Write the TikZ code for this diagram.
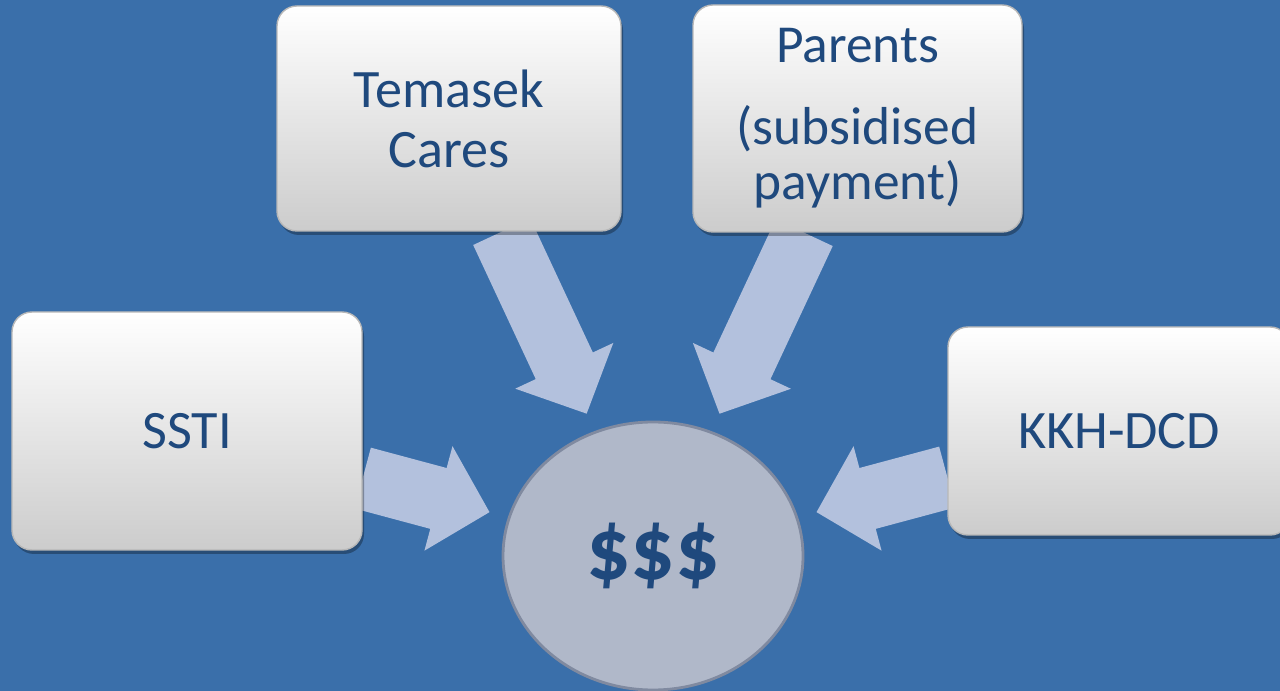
\documentclass[tikz,border=0pt]{standalone}
\usepackage{fontspec}
\setmainfont{Carlito}
\usetikzlibrary{positioning,shapes,arrows.meta,shadows}

\definecolor{slideblue}{RGB}{58,111,170}
\definecolor{flowblue}{RGB}{179,193,221}
\definecolor{coinfill}{RGB}{176,184,201}
\definecolor{coinedge}{RGB}{128,138,160}
\definecolor{labelblue}{RGB}{31,73,125}

\pgfdeclarelayer{back}
\pgfsetlayers{back,main}

\tikzset{
	source/.style={rounded corners=0.2cm, top color=white, middle color=black!3, bottom color=black!20, draw=black!28, thin,
		drop shadow={shadow xshift=0.02cm, shadow yshift=-0.04cm, fill=black, opacity=0.3},
		text=labelblue, align=center, inner sep=0pt, font=\fontsize{15.4}{17.1}\selectfont},
	pot/.style={ellipse, fill=coinfill, draw=coinedge, thick, text=labelblue, inner sep=0pt,
		font=\bfseries\fontsize{25}{30}\selectfont},
	flow/.style={flowblue, line width=0.63cm, -{Triangle[width=1.05cm, length=0.53cm]}, shorten >=0.19cm}
}

\begin{document}
\begin{tikzpicture}

	\useasboundingbox (0,0) rectangle (12.8,-6.91);

	% funding sources
	\node[source, minimum width=3.44cm, minimum height=2.25cm] (tem) at (4.49,-1.185) {Temasek\\Cares};
	\node[source, minimum width=3.29cm, minimum height=2.27cm, font=\fontsize{15.2}{15.6}\selectfont] (par) at (8.575,-1.185) {Parents\\[0.27cm](subsidised\\payment)};
	\node[source, minimum width=3.50cm, minimum height=2.38cm] (sst) at (1.87,-4.31) {SSTI};
	\node[source, minimum width=3.42cm, minimum height=2.08cm] (kkh) at (11.19,-4.31) {KKH-DCD};

	\node[pot, minimum width=3.0cm, minimum height=2.68cm] (money) at (6.53,-5.56) {\$\$\$};

	\begin{pgfonlayer}{back}
	\fill[slideblue] (0,0) rectangle (12.8,-6.91);
	\draw[flow] (tem) -- (money);
	\draw[flow] (par) -- (money);
	\draw[flow] (sst) -- (money);
	\draw[flow] (kkh) -- (money);
	\end{pgfonlayer}

\end{tikzpicture}
\end{document}
